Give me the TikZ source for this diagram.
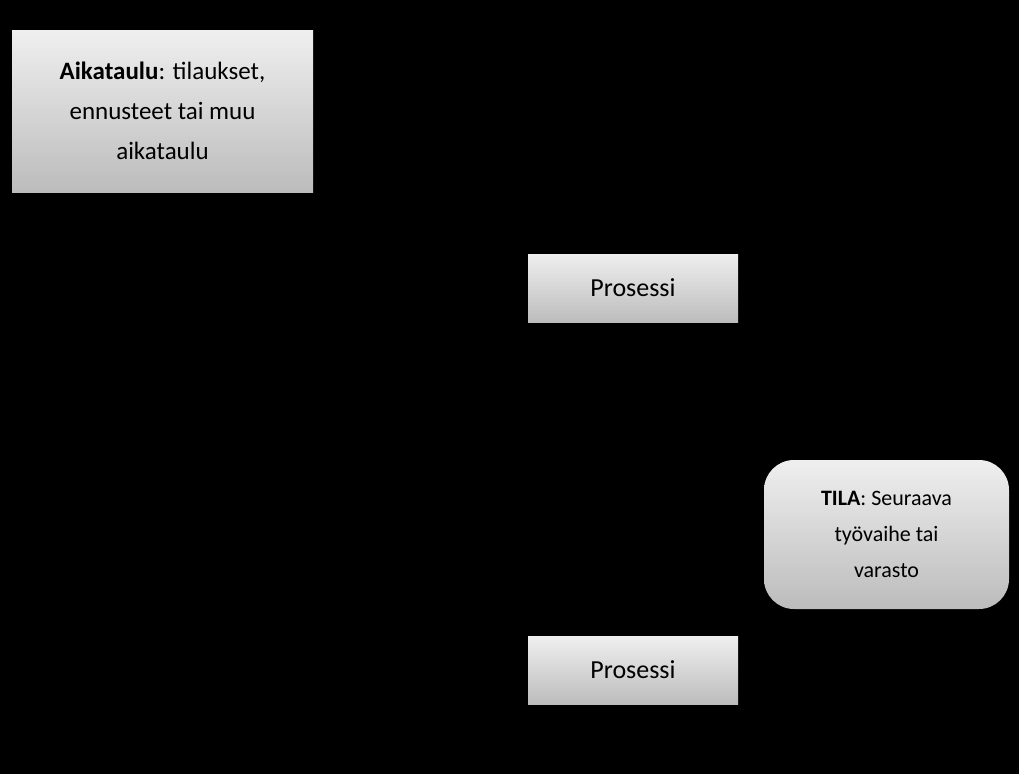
\documentclass[tikz,border=0pt]{standalone}
\usepackage{fontspec}
\setmainfont{Carlito}
\definecolor{gtop}{HTML}{EFEFEF}
\definecolor{gbot}{HTML}{BCBCBC}
\begin{document}
\begin{tikzpicture}[x=1pt,y=-1pt,
  gbox/.style={top color=gtop,bottom color=gbot,draw=none,inner sep=0pt,align=center,text=black}]
\useasboundingbox[fill=black] (0,0) rectangle (1019,774);
\node[gbox,minimum width=301pt,minimum height=162pt,font=\fontsize{25}{40}\selectfont] (sched) at (162.5,111) {\textbf{Aikataulu}: tilaukset,\\ennusteet tai muu\\aikataulu};
\node[gbox,minimum width=210pt,minimum height=68pt,font=\fontsize{26}{32}\selectfont] (p1) at (633,288) {Prosessi};
\node[gbox,rounded corners=30pt,minimum width=245pt,minimum height=149pt,font=\fontsize{22}{36}\selectfont] (tila) at (886.5,534.5) {\textbf{TILA}: Seuraava\\työvaihe tai\\varasto};
\node[gbox,minimum width=210pt,minimum height=68pt,font=\fontsize{26}{32}\selectfont] (p2) at (633,670) {Prosessi};
\end{tikzpicture}
\end{document}
